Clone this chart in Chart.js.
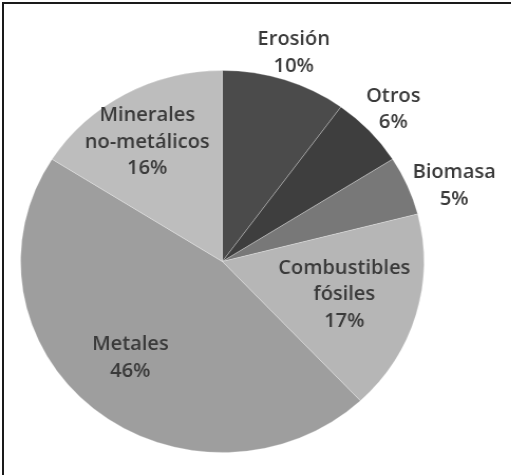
<!DOCTYPE html>
<html>
<head>
<meta charset="utf-8">
<script src="https://cdn.jsdelivr.net/npm/chart.js@4/dist/chart.umd.min.js"></script>
<style>
  html, body { margin: 0; padding: 0; background: #fff; }
  body { width: 511px; height: 475px; overflow: hidden; position: relative; }
  #frame { position: absolute; left: 2px; top: 2px; width: 509px; height: 473px;
           border-top: 2px solid #1a1a1a; border-left: 2px solid #1a1a1a; box-sizing: border-box; }
  #wrap { position: absolute; left: 0; top: 0; transform: scaleX(1.056); transform-origin: 0 0; }
</style>
</head>
<body>
<div id="frame"></div>
<div id="wrap"><canvas id="chart" width="484" height="475"></canvas></div>
<script>
var categorias = [["Erosión"], ["Otros"], ["Biomasa"], ["Combustibles", "fósiles"], ["Metales"], ["Minerales", "no-metálicos"]];
var valores = [10, 6, 5, 17, 46, 16];
var colores = ["#4b4b4b", "#3e3e3e", "#787878", "#b6b6b6", "#9e9e9e", "#bdbdbd"];

// distancia de cada etiqueta al centro (en radios) y ajuste de ángulo en grados
var radioEtiqueta = [1.146, 1.163, 1.215, 0.63, 0.68, 0.727];
var giroEtiqueta = [0, 0, 4.5, 0, 2.5, -2];

const etiquetas = {
  id: "etiquetas",
  afterDatasetsDraw(chart) {
    const ctx = chart.ctx;
    const arcs = chart.getDatasetMeta(0).data;
    const total = valores.reduce((a, b) => a + b, 0);
    ctx.save();
    ctx.font = "600 19px 'Open Sans'";
    ctx.fillStyle = "#3a3a3a";
    ctx.textAlign = "center";
    ctx.textBaseline = "middle";
    arcs.forEach((arc, i) => {
      const mid = (arc.startAngle + arc.endAngle) / 2 + giroEtiqueta[i] * Math.PI / 180;
      const r = arc.outerRadius * radioEtiqueta[i];
      const x = arc.x + Math.cos(mid) * r;
      const y = arc.y + Math.sin(mid) * r;
      const lineas = categorias[i].concat([Math.round(valores[i] / total * 100) + "%"]);
      const alto = 26.5;
      const y0 = y - (lineas.length - 1) * alto / 2;
      lineas.forEach((t, k) => ctx.fillText(t, x, y0 + k * alto));
    });
    ctx.restore();
  }
};

new Chart("chart", {
  type: "pie",
  data: {
    labels: categorias.map(c => c.join(" ")),
    datasets: [{
      data: valores,
      backgroundColor: colores,
      borderColor: "rgba(255,255,255,0.25)",
      borderWidth: 1
    }]
  },
  options: {
    responsive: false,
    animation: false,
    layout: { padding: { left: 19, right: 82, top: 70, bottom: 22 } },
    plugins: {
      legend: { display: false },
      tooltip: { enabled: false }
    }
  },
  plugins: [etiquetas]
});
</script>
</body>
</html>
